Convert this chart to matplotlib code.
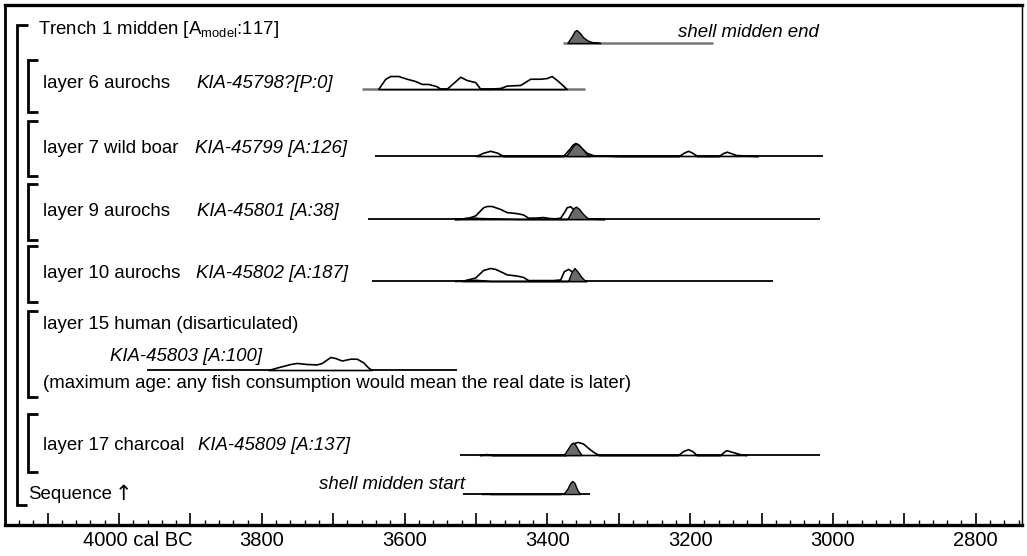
import numpy as np
import matplotlib
matplotlib.use("Agg")
import matplotlib.pyplot as plt
from matplotlib.ticker import MultipleLocator

plt.rcParams['font.family'] = ['Liberation Sans', 'DejaVu Sans']

# 분포 데이터 (cal BC, 상대 확률 0-1)
end_post_years = [3372, 3366, 3362, 3359, 3355, 3350, 3344, 3338, 3326]
end_post_prob = [0, 0.5, 0.9, 1.0, 0.8, 0.45, 0.2, 0.08, 0]

l6_like_years = [3637, 3627, 3620, 3609, 3597, 3585, 3576, 3567, 3555, 3550, 3541, 3522, 3513,
                 3501, 3494, 3480, 3466, 3457, 3438, 3424, 3410, 3401, 3394, 3385, 3373]
l6_like_prob = [0, 0.79, 1.0, 1.0, 0.79, 0.61, 0.39, 0.39, 0.21, 0.02, 0.02, 0.94, 0.69,
                0.53, 0.02, 0.02, 0.08, 0.26, 0.31, 0.79, 0.79, 0.84, 1.0, 0.61, 0]

l7_like_years = [3500, 3490, 3480, 3470, 3462, 3378, 3370, 3365, 3361, 3357, 3352, 3345, 3336, 3320,
                 3300, 3216, 3209, 3203, 3197, 3190, 3160, 3154, 3149, 3143, 3136, 3120, 3105]
l7_like_prob = [0, 0.25, 0.4, 0.25, 0, 0, 0.5, 0.85, 1.0, 0.9, 0.6, 0.25, 0.06, 0.03,
                0, 0, 0.25, 0.4, 0.25, 0, 0, 0.22, 0.33, 0.22, 0.08, 0.03, 0]
l7_post_years = [3374, 3368, 3363, 3360, 3356, 3350, 3345, 3340]
l7_post_prob = [0, 0.45, 0.85, 0.95, 0.85, 0.5, 0.15, 0]

l9_like_years = [3530, 3522, 3510, 3501, 3490, 3485, 3478, 3466, 3457, 3443, 3434, 3427, 3415,
                 3406, 3398, 3390, 3382, 3376, 3373, 3368, 3364, 3360, 3357, 3354, 3340, 3320]
l9_like_prob = [0, 0.02, 0.11, 0.28, 0.9, 1.0, 1.0, 0.77, 0.53, 0.45, 0.35, 0.1, 0.11,
                0.15, 0.08, 0.05, 0.1, 0.6, 0.9, 0.98, 0.77, 0.35, 0.15, 0.05, 0.02, 0]
l9_post_years = [3530, 3515, 3505, 3495, 3470, 3440, 3372, 3367, 3363, 3360, 3356, 3351, 3345, 3340]
l9_post_prob = [0, 0.08, 0.12, 0.08, 0.04, 0, 0, 0.5, 0.85, 0.95, 0.8, 0.45, 0.12, 0]

l10_like_years = [3520, 3501, 3490, 3480, 3473, 3466, 3457, 3443, 3434, 3427, 3392, 3382,
                  3377, 3371, 3366, 3361, 3354, 3345]
l10_like_prob = [0, 0.27, 0.85, 1.0, 0.93, 0.75, 0.51, 0.42, 0.31, 0.07, 0.07, 0.12,
                 0.75, 0.93, 0.75, 0.36, 0.07, 0]
l10_post_years = [3530, 3515, 3500, 3480, 3371, 3366, 3362, 3358, 3353, 3347]
l10_post_prob = [0, 0.07, 0.1, 0, 0, 0.7, 1.0, 0.75, 0.35, 0]

l15_like_years = [3791, 3779, 3760, 3751, 3737, 3723, 3716, 3704, 3697, 3688, 3676, 3667, 3658, 3651, 3646]
l15_like_prob = [0, 0.19, 0.46, 0.54, 0.46, 0.43, 0.54, 1.0, 0.92, 0.73, 0.87, 0.87, 0.59, 0.19, 0]

l17_like_years = [3495, 3485, 3477, 3374, 3368, 3364, 3360, 3357, 3350, 3343, 3336, 3328,
                  3217, 3210, 3203, 3197, 3191, 3158, 3152, 3149, 3142, 3130, 3121]
l17_like_prob = [0, 0.07, 0, 0, 0.5, 0.88, 0.97, 1.0, 0.88, 0.55, 0.25, 0,
                 0, 0.3, 0.45, 0.3, 0, 0, 0.28, 0.37, 0.25, 0.06, 0]
l17_post_years = [3377, 3371, 3367, 3364, 3361, 3357, 3352]
l17_post_prob = [0, 0.5, 0.85, 0.95, 0.8, 0.4, 0]

start_post_years = [3492, 3486, 3480, 3382, 3376, 3372, 3368, 3365, 3362, 3358, 3354]
start_post_prob = [0, 0.06, 0, 0, 0.1, 0.4, 0.85, 1.0, 0.85, 0.3, 0]

# 각 행: (기준선 y, 범위 시작, 범위 끝)
row_names = ['end', 'l6', 'l7', 'l9', 'l10', 'l15', 'l17', 'start']
row_base = [43, 89, 156, 219, 281, 370, 455, 494]
range_from = [3378, 3660, 3641, 3651, 3646, 3961, 3522, 3518]
range_to = [3168, 3347, 3014, 3018, 3084, 3527, 3018, 3340]

likes = {'l6': (l6_like_years, l6_like_prob), 'l7': (l7_like_years, l7_like_prob),
         'l9': (l9_like_years, l9_like_prob), 'l10': (l10_like_years, l10_like_prob),
         'l15': (l15_like_years, l15_like_prob), 'l17': (l17_like_years, l17_like_prob)}
posts = {'end': (end_post_years, end_post_prob), 'l7': (l7_post_years, l7_post_prob),
         'l9': (l9_post_years, l9_post_prob), 'l10': (l10_post_years, l10_post_prob),
         'l17': (l17_post_years, l17_post_prob), 'start': (start_post_years, start_post_prob)}

tick_years = [3800, 3600, 3400, 3200, 3000, 2800]

peak = 13.0

fig = plt.figure(figsize=(10.27, 5.56), dpi=100)
ax = fig.add_axes([5 / 1027, 1 - 525 / 556, 1017 / 1027, 520 / 556])
ax.set_xlim(4159.7, 2735.2)
ax.set_ylim(525, 5)

for name, base, r0, r1 in zip(row_names, row_base, range_from, range_to):
    grey = name in ('l6', 'end')
    ax.plot([r0, r1], [base, base], color='#777777' if grey else 'black',
            lw=1.8 if grey else 1.3, solid_capstyle='butt', zorder=2)
    if name in likes:
        yrs, p = likes[name]
        ax.fill_between(yrs, base, base - peak * np.array(p), facecolor='white',
                        edgecolor='black', lw=1.2, zorder=3)
    if name in posts:
        yrs, p = posts[name]
        ax.fill_between(yrs, base, base - peak * np.array(p), facecolor='#6a6a6a',
                        edgecolor='black', lw=1.0, zorder=4)

fs = 13.4
# 왼쪽 괄호
bk = dict(color='black', lw=2.0, solid_capstyle='butt', solid_joinstyle='miter', zorder=5)
ax.plot([4128, 4143, 4143, 4129], [25, 25, 505, 505], **bk)
for top, bot in [(60, 112), (121, 176), (184, 240), (246, 302), (311, 397), (414, 472)]:
    ax.plot([4113, 4127.5, 4127.5, 4113], [top, top, bot, bot], **bk)

ax.text(4113, 34, r'Trench 1 midden [A$_{\mathregular{model}}$:117]', fontsize=fs)
ax.text(3217, 37, 'shell midden end', fontsize=fs, style='italic')

labels = [('layer 6 aurochs', 'KIA-45798?[P:0]', 3700, 88),
          ('layer 7 wild boar', 'KIA-45799 [A:126]', 3681, 153),
          ('layer 9 aurochs', 'KIA-45801 [A:38]', 3693, 216),
          ('layer 10 aurochs', 'KIA-45802 [A:187]', 3679, 278),
          ('layer 17 charcoal', 'KIA-45809 [A:137]', 3677, 450)]
for lab, kia, kx, y in labels:
    ax.text(4106.4, y, lab, fontsize=fs)
    ax.text(kx, y, kia, fontsize=fs, style='italic', ha='right')

ax.text(4106.4, 329, 'layer 15 human (disarticulated)', fontsize=fs)
ax.text(4012.6, 361, 'KIA-45803 [A:100]', fontsize=fs, style='italic')
ax.text(4106.4, 388, '(maximum age: any fish consumption would mean the real date is later)', fontsize=fs)
ax.text(4127.5, 499, 'Sequence', fontsize=fs)
ax.text(3994, 500, '\u2191', fontsize=15, family=['DejaVu Sans'], ha='center')
ax.text(3515, 489, 'shell midden start', fontsize=fs, style='italic', ha='right')

# 축
ticks = np.arange(4100, 2700, -100)
ax.set_xticks(ticks)
ax.xaxis.set_minor_locator(MultipleLocator(20))
ax.set_xticklabels([str(t) if t in tick_years else '' for t in ticks], fontsize=14.5)
ax.tick_params(axis='x', which='major', direction='in', length=8.6, width=1.2, pad=4)
ax.tick_params(axis='x', which='minor', direction='in', length=3.6, width=1.0)
ax.set_yticks([])
ax.annotate('4000 cal BC', xy=(4050.4, 0), xycoords=('data', 'axes fraction'),
            xytext=(0, -4), textcoords='offset points', fontsize=14.5, va='top')

ax.spines['top'].set_linewidth(2.4)
ax.spines['bottom'].set_linewidth(2.4)
ax.spines['left'].set_linewidth(2.0)
ax.spines['right'].set_linewidth(1.0)

plt.savefig('out.png', dpi=100)
